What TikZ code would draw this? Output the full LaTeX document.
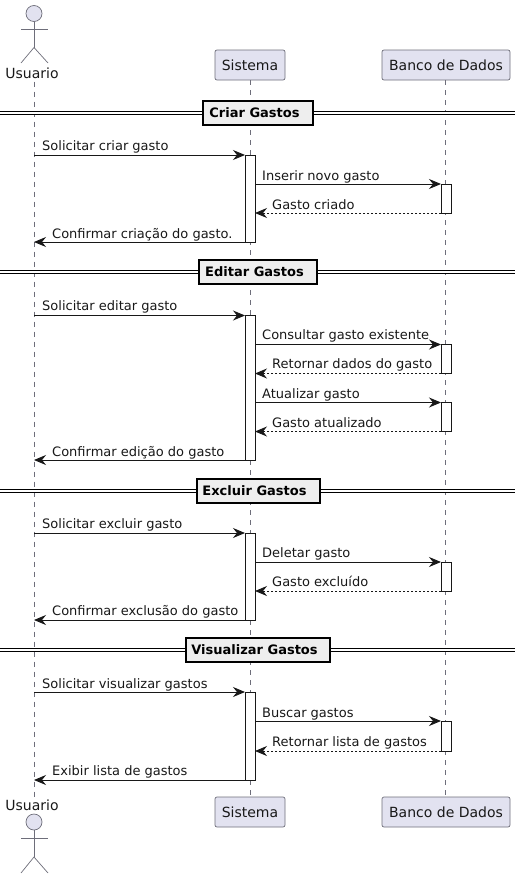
\documentclass[tikz,border=0pt]{standalone}
\usepackage{fontspec}
\setmainfont{DejaVu Sans}
\usetikzlibrary{arrows.meta, positioning}

\definecolor{partfill}{HTML}{E2E2F0}
\definecolor{partline}{HTML}{6E6E7A}
\definecolor{inkline}{HTML}{181818}
\definecolor{divfill}{HTML}{EEEEEE}

\begin{document}
\begin{tikzpicture}[
    x=1pt, y=-1pt,
    part/.style={draw=partline, fill=partfill, rounded corners=2pt, line width=0.7pt, minimum height=30pt, inner sep=0pt, outer sep=0pt, font=\fontsize{14}{16}\selectfont, text=inkline},
    actorname/.style={inner sep=0pt, outer sep=0pt, text height=11pt, text depth=3pt, font=\fontsize{14}{16}\selectfont, text=inkline},
    actorline/.style={draw=partline, line width=0.7pt},
    head/.style={circle, draw=partline, fill=partfill, line width=0.7pt, minimum size=16pt, inner sep=0pt, outer sep=0pt},
    life/.style={draw=partline, line width=0.7pt, dash pattern=on 5pt off 5pt},
    activation/.style={draw=inkline, fill=white, line width=0.9pt, minimum width=10pt, inner sep=0pt, outer sep=0pt, anchor=north},
    arrow/.style={-{Stealth[length=12pt, width=10pt, inset=4pt]}, draw=inkline, line width=0.9pt},
    reply/.style={arrow, dash pattern=on 2pt off 2pt},
    msg/.style={anchor=base west, inner sep=0pt, font=\fontsize{13}{15}\selectfont, text=inkline},
    divider/.style={draw=black, double=white, double distance=1.7pt, line width=1.3pt},
    divbox/.style={draw=black, fill=divfill, line width=2pt, minimum height=24pt, inner sep=0pt, outer sep=0pt, font=\fontsize{13}{15}\selectfont\bfseries, text=black, execute at end node={\hspace{7pt}}}
]
\useasboundingbox (0,0) rectangle (521,878);

% participants
\node (usuarioTop) [actorname] at (32,74.5) {Usuario};
\node (usuarioBot) [actorname] at (32,806.5) {Usuario};
\node (sistemaTop) [part, minimum width=70pt] at (250,65) {Sistema};
\node (sistemaBot) [part, minimum width=70pt] at (250,812) {Sistema};
\node (bancoTop) [part, minimum width=128pt] at (446,65) {Banco de Dados};
\node (bancoBot) [part, minimum width=128pt] at (446,812) {Banco de Dados};

% actors
\node (headTop) [head] at (34,13.5) {};
\draw[actorline] (headTop.south) -- ++(0,26) coordinate (hipTop);
\draw[actorline] (21,29) -- (48,29);
\draw[actorline] (21,63) -- (hipTop) -- (48,63);
\node (headBot) [head] at (34,822) {};
\draw[actorline] (headBot.south) -- ++(0,27) coordinate (hipBot);
\draw[actorline] (21,838) -- (48,838);
\draw[actorline] (21,873) -- (hipBot) -- (48,873);

% lifelines
\draw[life] (usuarioTop.south -| headTop) -- (usuarioBot.north -| headTop);
\draw[life] (sistemaTop) -- (sistemaBot);
\draw[life] ([xshift=-1pt]bancoTop.south) -- ([xshift=-1pt]bancoBot.north);

% activations
\node (s1) [activation, minimum height=87pt] at (250,155) {};
\node (s2) [activation, minimum height=144.5pt] at (250,315.5) {};
\node (s3) [activation, minimum height=87pt] at (250,533) {};
\node (s4) [activation, minimum height=88pt] at (250,692) {};
\node (b1) [activation, minimum height=29pt] at (446,184) {};
\node (b2) [activation, minimum height=29pt] at (446,344.5) {};
\node (b3) [activation, minimum height=29pt] at (446,402.5) {};
\node (b4) [activation, minimum height=29pt] at (446,562) {};
\node (b5) [activation, minimum height=30pt] at (446,721) {};

% free ends on the Usuario lifeline
\coordinate (u1) at (34,155);
\coordinate (u2) at (34,242);
\coordinate (u3) at (34,315.5);
\coordinate (u4) at (34,460);
\coordinate (u5) at (34,533);
\coordinate (u6) at (34,620);
\coordinate (u7) at (34,692);
\coordinate (u8) at (34,780);

% Criar Gastos
\draw[arrow] (u1) -- (s1.north west);
\draw[arrow] (s1.east |- b1.north) -- (b1.north west);
\draw[reply] (b1.south west) -- (s1.east |- b1.south);
\draw[arrow] (s1.south west) -- (u2);
\node (m1) [msg] at (42,150) {Solicitar criar gasto};
\node (m2) [msg] at (262,180) {Inserir novo gasto};
\node (m3) [msg] at (272,209) {Gasto criado};
\node (m4) [msg] at (52,238) {Confirmar criação do gasto.};

% Editar Gastos
\draw[arrow] (u3) -- (s2.north west);
\draw[arrow] (s2.east |- b2.north) -- (b2.north west);
\draw[reply] (b2.south west) -- (s2.east |- b2.south);
\draw[arrow] (s2.east |- b3.north) -- (b3.north west);
\draw[reply] (b3.south west) -- (s2.east |- b3.south);
\draw[arrow] (s2.south west) -- (u4);
\node (m5) [msg] at (42,310) {Solicitar editar gasto};
\node (m6) [msg] at (262,339) {Consultar gasto existente};
\node (m7) [msg] at (272,368) {Retornar dados do gasto};
\node (m8) [msg] at (262,398) {Atualizar gasto};
\node (m9) [msg] at (272,427) {Gasto atualizado};
\node (m10) [msg] at (52,456) {Confirmar edição do gasto};

% Excluir Gastos
\draw[arrow] (u5) -- (s3.north west);
\draw[arrow] (s3.east |- b4.north) -- (b4.north west);
\draw[reply] (b4.south west) -- (s3.east |- b4.south);
\draw[arrow] (s3.south west) -- (u6);
\node (m11) [msg] at (42,528) {Solicitar excluir gasto};
\node (m12) [msg] at (262,557) {Deletar gasto};
\node (m13) [msg] at (272,586) {Gasto excluído};
\node (m14) [msg] at (52,615) {Confirmar exclusão do gasto};

% Visualizar Gastos
\draw[arrow] (u7) -- (s4.north west);
\draw[arrow] (s4.east |- b5.north) -- (b5.north west);
\draw[reply] (b5.south west) -- (s4.east |- b5.south);
\draw[arrow] (s4.south west) -- (u8);
\node (m15) [msg] at (42,688) {Solicitar visualizar gastos};
\node (m16) [msg] at (262,717) {Buscar gastos};
\node (m17) [msg] at (272,746) {Retornar lista de gastos};
\node (m18) [msg] at (52,775) {Exibir lista de gastos};

% dividers
\coordinate (d1l) at (0,113);
\coordinate (d1r) at (515,113);
\coordinate (d2l) at (0,272);
\coordinate (d2r) at (515,272);
\coordinate (d3l) at (0,491);
\coordinate (d3r) at (515,491);
\coordinate (d4l) at (0,650);
\coordinate (d4r) at (515,650);
\draw[divider] (d1l) -- (d1r);
\draw[divider] (d2l) -- (d2r);
\draw[divider] (d3l) -- (d3r);
\draw[divider] (d4l) -- (d4r);
\node (criar) [divbox, minimum width=110pt] at (258,113) {Criar Gastos};
\node (editar) [divbox, minimum width=118pt] at (258,272) {Editar Gastos};
\node (excluir) [divbox, minimum width=123pt] at (258,491) {Excluir Gastos};
\node (visualizar) [divbox, minimum width=144pt] at (258,650) {Visualizar Gastos};
\end{tikzpicture}
\end{document}
